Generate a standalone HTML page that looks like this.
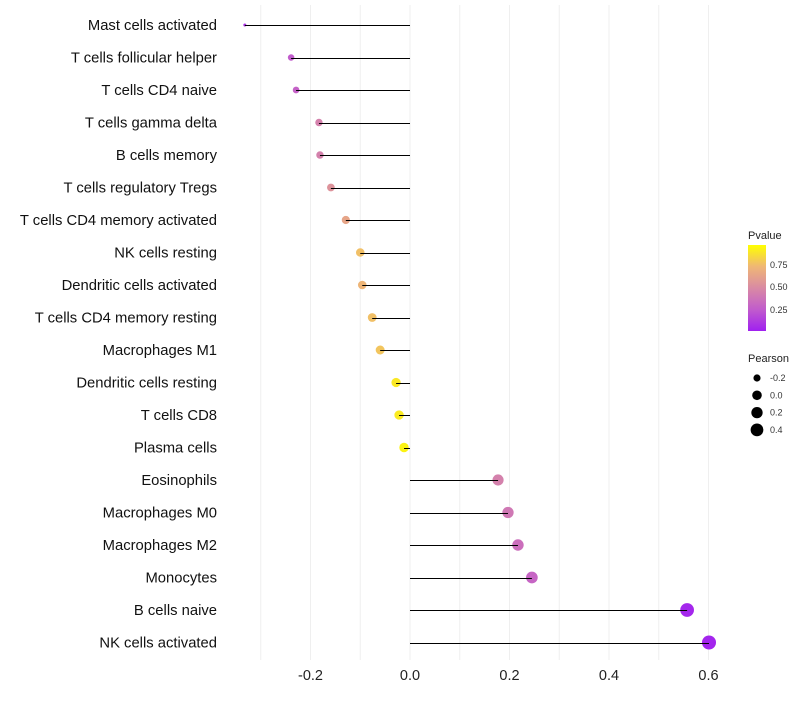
<!DOCTYPE html>
<html><head><meta charset="utf-8"><style>
body{margin:0;background:#fff;font-family:"Liberation Sans",sans-serif}
</style></head><body>
<svg id="chart" width="800" height="700" xmlns="http://www.w3.org/2000/svg">
<defs><linearGradient id="pg" x1="0" y1="1" x2="0" y2="0">
<stop offset="0" stop-color="#a020f0"/><stop offset="0.25" stop-color="#c15ccc"/><stop offset="0.5" stop-color="#d98aa4"/><stop offset="0.75" stop-color="#efb775"/><stop offset="1" stop-color="#ffff00"/></linearGradient></defs>
<g id="grid"></g><g id="marks"></g><g id="labels"></g>
<g>
<text x="748" y="239" font-size="11" fill="#222">Pvalue</text>
<rect x="748" y="245" width="18" height="86" fill="url(#pg)"/>
<text x="770" y="268" font-size="9" fill="#333">0.75</text>
<text x="770" y="290" font-size="9" fill="#333">0.50</text>
<text x="770" y="313" font-size="9" fill="#333">0.25</text>
<text x="748" y="362" font-size="11" fill="#222">Pearson</text>
<g id="sizeleg"></g>
</g>
</svg>
<script>
const categories=["Mast cells activated","T cells follicular helper","T cells CD4 naive","T cells gamma delta","B cells memory","T cells regulatory  Tregs ","T cells CD4 memory activated","NK cells resting","Dendritic cells activated","T cells CD4 memory resting","Macrophages M1","Dendritic cells resting","T cells CD8","Plasma cells","Eosinophils","Macrophages M0","Macrophages M2","Monocytes","B cells naive","NK cells activated"];
const pearson=[-0.332,-0.239,-0.229,-0.183,-0.181,-0.159,-0.129,-0.100,-0.096,-0.076,-0.060,-0.028,-0.022,-0.012,0.177,0.197,0.217,0.245,0.557,0.601];
const pvalue=[0.08,0.25,0.28,0.45,0.45,0.55,0.65,0.78,0.74,0.78,0.8,0.92,0.93,0.96,0.45,0.4,0.35,0.3,0.03,0.02];
const xTicks=[-0.2,0.0,0.2,0.4,0.6];
const xTickLabels=["-0.2","0.0","0.2","0.4","0.6"];
const sizeLegend=[-0.2,0.0,0.2,0.4];
const NS="http://www.w3.org/2000/svg";
const x=v=>410+v*497.5, y=i=>25+i*32.5, r=p=>1.5+5.7*Math.sqrt(Math.max(0,p+0.332));
const stops=[[0,[160,32,240]],[0.25,[193,92,204]],[0.5,[217,138,164]],[0.75,[239,183,117]],[1,[255,255,0]]];
function col(p){for(let k=1;k<stops.length;k++){if(p<=stops[k][0]){const a=stops[k-1],b=stops[k],t=(p-a[0])/(b[0]-a[0]);return 'rgb('+a[1].map((c,j)=>Math.round(c+(b[1][j]-c)*t)).join(',')+')';}}return 'rgb(255,255,0)';}
function mk(t,at,parent){const e=document.createElementNS(NS,t);for(const k in at)e.setAttribute(k,at[k]);parent.appendChild(e);return e;}
const grid=document.getElementById('grid'),marks=document.getElementById('marks'),labels=document.getElementById('labels');
for(let v=-0.3;v<=0.61;v+=0.1){const g=mk('line',{x1:x(v),x2:x(v),y1:5,y2:660,stroke:'#efefef','stroke-width':1},grid);}
xTicks.forEach((v,i)=>{const t=mk('text',{x:x(v),y:680,'font-size':14.5,'text-anchor':'middle',fill:'#222'},labels);t.textContent=xTickLabels[i];});
categories.forEach((c,i)=>{
const t=mk('text',{x:217,y:y(i)+5,'font-size':14.8,'text-anchor':'end',fill:'#111'},labels);t.textContent=c;

const ci=mk('circle',{cx:x(pearson[i]),cy:y(i),r:r(pearson[i]),fill:col(pvalue[i])},marks);

const l=mk('line',{x1:x(0),x2:x(pearson[i]),y1:Math.round(y(i))+0.5,y2:Math.round(y(i))+0.5,stroke:'#000','stroke-width':1},marks);

});
const sl=document.getElementById('sizeleg');
sizeLegend.forEach((v,i)=>{const cy=378+i*17.3;
const c=mk('circle',{cx:757,cy:cy,r:r(v),fill:'#000'},sl);
const t=mk('text',{x:770,y:cy+3,'font-size':9,fill:'#333'},sl);t.textContent=v.toFixed(1);});
</script>
</body></html>
